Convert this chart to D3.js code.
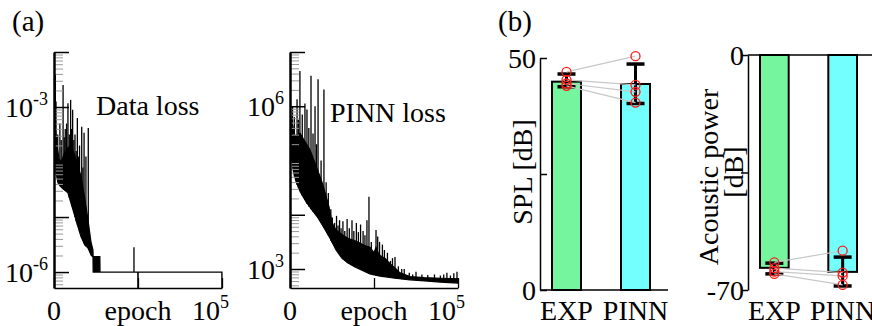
<!DOCTYPE html>
<html>
<head>
<meta charset="utf-8">
<script src="https://cdn.jsdelivr.net/npm/d3@7"></script>
<style>
  body { margin: 0; background: #fff; }
  svg text { font-family: 'Liberation Serif', 'Times New Roman', Tinos, Times, 'DejaVu Serif', serif; fill: #000; }
</style>
</head>
<body>
<svg id="chart" width="872" height="326" font-family="Liberation Serif, Times New Roman, DejaVu Serif, serif"></svg>
<script>
// ---- (a) loss histories: [epoch, log10(loss)] ----
const dataLossHigh = [[0,-2.0],[600,-3.3],[1800,-3.7],[3000,-3.95],[4500,-4.0],[6000,-3.85],[8000,-3.75],
  [10000,-3.7],[12000,-3.85],[14000,-4.05],[16000,-4.25],[18000,-4.6],[20000,-5.0],[22000,-5.45],
  [23200,-5.6],[23300,-5.72],[27300,-5.72],[27400,-6.0],[100000,-6.0]];
const dataLossLow = [[0,-2.0],[600,-3.9],[1200,-4.2],[2400,-4.38],[5000,-4.48],[8300,-4.56],[11300,-4.87],
  [14300,-5.18],[16100,-5.36],[18400,-5.51],[20200,-5.56],[22000,-5.69],[23200,-5.73],[23300,-6.0],
  [49900,-6.0],[50000,-7],[50100,-6.0],[99900,-6.0],[100000,-7]];
// spikes: [epoch, base, peak]
const dataLossSpikes = [[800,-4.0,-2.4],[1200,-4.2,-2.9],[2200,-4.35,-3.5],[3500,-4.44,-3.3],[4300,-4.46,-3.6],
  [5400,-4.48,-2.6],[6100,-4.5,-3.55],[6700,-4.52,-3.4],[7500,-4.54,-3.3],[8300,-4.56,-2.93],[9100,-4.65,-3.5],
  [9900,-4.72,-2.87],[10500,-4.8,-3.4],[11100,-4.85,-3.05],[11800,-4.92,-3.6],[12500,-5.0,-3.5],
  [13200,-5.08,-3.8],[13900,-5.14,-3.2],[14600,-5.2,-3.9],[15200,-5.27,-3.7],[16500,-5.38,-3.36],
  [17200,-5.42,-4.1],[17900,-5.48,-3.47],[19000,-5.53,-3.9],[20400,-5.57,-3.38],[47600,-6.0,-5.55]];

const pinnLossHigh = [[0,5.9],[1200,5.7],[3000,5.45],[6000,5.5],[8900,5.35],[11900,5.2],[14900,4.95],
  [17900,4.7],[19600,4.55],[23200,4.15],[25000,3.85],[27400,3.72],[30000,3.66],[32700,3.6],[35700,3.55],
  [38700,3.52],[41700,3.48],[44600,3.43],[47600,3.4],[50000,3.3],[51200,3.4],[52500,3.3],[53600,3.25],
  [56500,3.2],[59500,3.1],[62500,3.02],[65500,2.93],[71400,2.86],[80000,2.84],[90000,2.83],[100000,2.82]];
const pinnLossLow = [[0,5.26],[1800,4.83],[3600,4.61],[6000,4.43],[9500,4.24],[13100,4.09],[16700,3.94],
  [20200,3.76],[23800,3.57],[27400,3.35],[30900,3.2],[34500,3.11],[38700,3.04],[42800,2.98],[47600,2.91],
  [53600,2.87],[62500,2.83],[71400,2.8],[80300,2.78],[89300,2.76],[100000,2.74]];
const pinnLossSpikes = [[1500,4.9,6.0],[2600,4.7,5.8],[4200,4.55,6.13],[5000,4.5,5.75],[5900,4.45,6.65],
  [7300,4.35,5.85],[8900,4.27,6.05],[10100,4.2,5.94],[11200,4.15,5.6],[12500,4.1,6.56],[13700,4.05,5.5],
  [14900,4.02,6.0],[15800,3.98,5.3],[16700,3.94,6.5],[18500,3.86,5.0],[20200,3.76,6.31],[21500,3.7,4.6],
  [22800,3.62,4.4],[24300,3.52,4.1],[25200,3.48,3.95],[26500,3.42,3.85],[27700,3.38,3.98],[28600,3.32,3.8],
  [29500,3.28,3.9],[30400,3.22,3.75],[31500,3.18,3.88],[32600,3.15,3.7],[34000,3.12,3.92],[35300,3.1,3.75],
  [36900,3.07,3.9],[38000,3.05,3.7],[39500,3.03,3.85],[40700,3.01,3.68],[42000,2.99,3.82],[43500,2.97,3.7],
  [44600,2.96,3.62],[45800,2.94,3.9],[47000,2.92,4.33],[48400,2.91,3.5],[51200,2.88,3.72],[52200,2.88,3.6],
  [53300,2.87,3.5],[55000,2.86,3.45],[56200,2.86,3.35],[58000,2.85,3.3],[59800,2.84,3.15],[61000,2.84,3.2],
  [62500,2.83,3.22],[64500,2.82,3.05],[66500,2.81,3.0],[68000,2.81,3.0],[71000,2.8,2.93],[73000,2.8,2.9],
  [75000,2.8,2.95],[78500,2.79,2.9],[82000,2.78,2.89],[86000,2.77,2.9],[89500,2.76,2.88],[91500,2.76,2.9],
  [93400,2.75,2.93],[95500,2.75,2.88],[97500,2.74,2.92],[99400,2.74,2.95]];

const epochTicks = [0, 50000, 100000];
const dataLossLabels = [-3, -6];
const pinnLossLabels = [6, 3];

// ---- (b) bar charts ----
const groups = ["EXP", "PINN"];
const splMean = [44.9, 44.4];
const splLow = [43.8, 40.2];
const splHigh = [46.55, 48.7];
const splExp = [47.0, 45.3, 44.5, 44.0];
const splPinn = [50.4, 44.2, 42.7, 40.4];
const splTicks = [0, 25, 50];
const splTickLabels = ["0", "", "50"];

const powMean = [-63.4, -64.6];
const powLow = [-65.2, -68.8];
const powHigh = [-62.0, -60.2];
const powExp = [-61.75, -63.5, -64.5, -65.2];
const powPinn = [-58.3, -64.8, -65.8, -68.5];
const powTicks = [-70, -35, 0];
const powTickLabels = ["-70", "", "0"];

const barColors = ["#74f59e", "#74ffff"];

const svg = d3.select("#chart");
const FONT = "'Liberation Serif', 'Times New Roman', 'DejaVu Serif', serif";
const FS = 28, SUP = 18;

function addText(g, x, y, size) {
  return g.append("text").attr("x", x).attr("y", y)
    .style("font-family", FONT).attr("font-size", size);
}

function pow10(g, x, y, exp, anchor) {
  const t = addText(g, x, y, FS).attr("text-anchor", anchor);
  t.append("tspan").text("10");
  t.append("tspan").attr("dy", -12).attr("font-size", SUP).text(exp);
}

function lossPlot(o) {
  const x = d3.scaleLinear().domain([0, 1e5]).range([o.x0, o.x1]);
  const y = d3.scaleLog().domain(o.yDomain).range([288, 52]);
  const ly = v => y(Math.pow(10, v));

  svg.append("clipPath").attr("id", o.id)
    .append("rect").attr("x", o.x0).attr("y", 52).attr("width", o.x1 - o.x0 + 1).attr("height", 236);
  const g = svg.append("g").attr("clip-path", `url(#${o.id})`);

  const line = d3.line().x(d => x(d[0])).y(d => ly(d[1]));
  const poly = o.high.concat(o.low.slice().reverse());
  g.append("path").attr("d", line(poly) + "Z")
    .attr("fill", "#000").attr("stroke", "#000").attr("stroke-width", 1.2);

  g.selectAll("line.spike").data(o.spikes).join("line")
    .attr("x1", d => x(d[0])).attr("x2", d => x(d[0]))
    .attr("y1", d => ly(d[1])).attr("y2", d => ly(d[2]))
    .attr("stroke", "#000").attr("stroke-width", 1.3);

  // log y axis: grey minor, black major ticks
  const all = y.ticks();
  const isMajor = t => Math.abs(Math.log10(t) - Math.round(Math.log10(t))) < 1e-6;
  const minor = all.filter(t => !isMajor(t));
  const major = all.filter(isMajor);

  const gm = svg.append("g").attr("transform", `translate(${o.x0},0)`)
    .call(d3.axisRight(y).tickValues(minor).tickSize(9).tickSizeOuter(0).tickFormat(""));
  gm.select(".domain").remove();
  gm.selectAll("line").attr("stroke", "#999").attr("stroke-width", 1);

  const gM = svg.append("g").attr("transform", `translate(${o.x0},0)`)
    .call(d3.axisRight(y).tickValues(major).tickSize(15).tickSizeOuter(0).tickFormat(""));
  gM.select(".domain").attr("stroke", "#000").attr("stroke-width", 2.5);
  gM.selectAll("line").attr("stroke", "#000").attr("stroke-width", 1.5);

  const gx = svg.append("g").attr("transform", "translate(0,288)")
    .call(d3.axisTop(x).tickValues(epochTicks).tickSize(10).tickSizeOuter(0).tickFormat(""));
  gx.select(".domain").attr("stroke", "#000").attr("stroke-width", 1.5);
  gx.selectAll("line").attr("stroke", "#000").attr("stroke-width", 1.3);

  o.labels.forEach(e => pow10(svg, o.labelEnd, ly(e) + 10, String(e), "end"));

  addText(svg, x(0), 320, FS).attr("text-anchor", "middle").text("0");
  addText(svg, x(5e4), 320, FS).attr("text-anchor", "middle").text("epoch");
  pow10(svg, x(1e5) - 30, 320, "5", "start");

  addText(svg, o.titleX, o.titleY, FS).text(o.title);
}

lossPlot({ id: "clipA", x0: 54, x1: 222, yDomain: [Math.pow(10, -6.29), 1e-2],
  high: dataLossHigh, low: dataLossLow, spikes: dataLossSpikes, labels: dataLossLabels,
  labelEnd: 48, title: "Data loss", titleX: 96, titleY: 115 });
lossPlot({ id: "clipB", x0: 290, x1: 458, yDomain: [Math.pow(10, 2.65), 1e7],
  high: pinnLossHigh, low: pinnLossLow, spikes: pinnLossSpikes, labels: pinnLossLabels,
  labelEnd: 284, title: "PINN loss", titleX: 330, titleY: 122 });

function barPanel(o) {
  const x = d3.scaleBand().domain(groups).range(o.xr).paddingInner(0.58);
  const y = d3.scaleLinear().domain(o.domain).range(o.yr);
  const bw = x.bandwidth();
  const cx = k => x(k) + bw / 2;

  svg.selectAll(null).data(groups).join("rect")
    .attr("x", d => x(d)).attr("width", bw)
    .attr("y", (d, i) => Math.min(y(0), y(o.mean[i])))
    .attr("height", (d, i) => Math.abs(y(0) - y(o.mean[i])))
    .attr("fill", (d, i) => barColors[i]).attr("stroke", "#000").attr("stroke-width", 2);

  groups.forEach((k, i) => {
    const g = svg.append("g").attr("stroke", "#000");
    g.append("line").attr("x1", cx(k)).attr("x2", cx(k))
      .attr("y1", y(o.low[i])).attr("y2", y(o.high[i])).attr("stroke-width", 3);
    [o.low[i], o.high[i]].forEach(v => g.append("line")
      .attr("x1", cx(k) - 9).attr("x2", cx(k) + 9).attr("y1", y(v)).attr("y2", y(v))
      .attr("stroke-width", 3.5));
  });

  svg.selectAll(null).data(o.exp).join("line")
    .attr("x1", cx("EXP")).attr("x2", cx("PINN"))
    .attr("y1", d => y(d)).attr("y2", (d, i) => y(o.pinn[i]))
    .attr("stroke", "#c8c8c8").attr("stroke-width", 1.2);

  [["EXP", o.exp], ["PINN", o.pinn]].forEach(([k, vals]) => {
    svg.selectAll(null).data(vals).join("circle")
      .attr("cx", cx(k)).attr("cy", d => y(d)).attr("r", 4.5)
      .attr("fill", "none").attr("stroke", "#ff1a1a").attr("stroke-width", 1.3);
  });

  const ay = svg.append("g").attr("transform", `translate(${o.axisX},0)`)
    .call((o.inward ? d3.axisRight(y) : d3.axisLeft(y)).tickValues(o.ticks).tickSize(7)
      .tickSizeOuter(0).tickFormat(""));
  ay.select(".domain").attr("stroke", "#000").attr("stroke-width", 1.5);
  ay.selectAll("line").attr("stroke", "#000").attr("stroke-width", 1.5);

  svg.append("line").attr("x1", o.axisX).attr("x2", o.baseEnd)
    .attr("y1", y(0)).attr("y2", y(0)).attr("stroke", "#000").attr("stroke-width", 1.5);

  o.ticks.forEach((t, i) => {
    if (!o.tickLabels[i]) return;
    addText(svg, o.axisX - 4, y(t) + 10, FS).attr("text-anchor", "end").text(o.tickLabels[i]);
  });

  groups.forEach(k => addText(svg, cx(k), 320, FS).attr("text-anchor", "middle").text(k));

  o.title.forEach(([txt, tx, ty]) => svg.append("text")
    .attr("transform", `translate(${tx},${ty}) rotate(-90)`)
    .style("font-family", FONT)
    .attr("text-anchor", "middle").attr("dominant-baseline", "central")
    .attr("font-size", FS).text(txt));
}

barPanel({ xr: [552, 650], yr: [290, 58], domain: [0, 50], mean: splMean, low: splLow, high: splHigh,
  exp: splExp, pinn: splPinn, ticks: splTicks, tickLabels: splTickLabels, axisX: 540, inward: true,
  baseEnd: 668, title: [["SPL [dB]", 522, 172]] });
barPanel({ xr: [760, 857], yr: [290, 55], domain: [-70, 0], mean: powMean, low: powLow, high: powHigh,
  exp: powExp, pinn: powPinn, ticks: powTicks, tickLabels: powTickLabels, axisX: 748, inward: false,
  baseEnd: 880, title: [["Acoustic power", 708, 177], ["[dB]", 733, 172]] });

addText(svg, 12, 31, 29).text("(a)");
addText(svg, 498, 31, 29).text("(b)");
</script>
</body>
</html>
